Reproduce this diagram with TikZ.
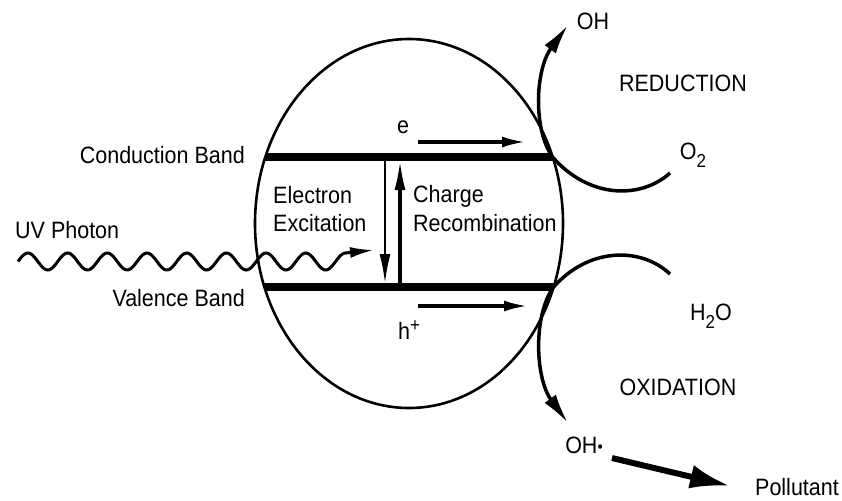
\documentclass[tikz,border=0pt]{standalone}
\usepackage{fontspec}
\setmainfont{Liberation Sans}
\usetikzlibrary{arrows.meta,shapes.geometric}
\newcommand\tx[1]{\scalebox{1}[1.1]{#1}}
\begin{document}
\begin{tikzpicture}[x=1pt,y=-1pt,
  lbl/.style={font=\fontsize{21.5}{26}\selectfont, inner sep=0pt},
  band/.style={line width=7.5pt},
  flowarrow/.style={line width=3.5pt, -{Latex[length=24pt,width=11pt]}},
  bandarrow/.style={-{Latex[length=30pt,width=11pt]}},
  curvearrow/.style={line width=3.5pt, -{Latex[length=30pt,width=14pt]}},
  bigarrow/.style={line width=6pt, -{Latex[length=40pt,width=24pt]}}]
\useasboundingbox (0,0) rectangle (842,500);

% particle
\node[draw, ellipse, line width=2.6pt, minimum width=308pt, minimum height=369pt, inner sep=0pt] (part) at (409,223.5) {};

% band ends
\coordinate (cbL) at (265.4,157);
\coordinate (cbR) at (552.6,157);
\coordinate (vbL) at (264.4,287);
\coordinate (vbR) at (553.6,287);
\draw[band] (cbL) -- (cbR);
\draw[band] (vbL) -- (vbR);

% labels left
\node[lbl, anchor=east] (cblbl) at (245,155) {\tx{Conduction Band}};
\node[lbl, anchor=east] (vblbl) at (245,298) {\tx{Valence Band}};
\node[lbl, anchor=west] (uvlbl) at (15,230) {\tx{UV Photon}};
\node[lbl, anchor=west] (exc1) at (273,195) {\tx{Electron}};
\node[lbl, anchor=west] (exc2) at (273,223) {\tx{Excitation}};
\node[lbl, anchor=west] (rec1) at (413,196) {\tx{Charge}};
\node[lbl, anchor=west] (rec2) at (413,223) {\tx{Recombination}};

% vertical arrows
\coordinate (dnTop) at (385,161);
\coordinate (dnBot) at (385,284);
\coordinate (upBot) at (400,284);
\coordinate (upTop) at (400,160);
\draw[bandarrow, line width=2.6pt] (dnTop) -- (dnBot);
\draw[bandarrow, line width=3.2pt] (upBot) -- (upTop);

% e and h+ arrows
\node[lbl] (elbl) at (403,127) {\tx{e}};
\node[lbl] (hlbl) at (409,330) {\tx{h\raisebox{7pt}{\fontsize{17}{17}\selectfont +}}};
\coordinate (eS) at (418,142);
\coordinate (eE) at (526,142);
\coordinate (hS) at (418,306);
\coordinate (hE) at (528,306);
\draw[flowarrow] (eS) -- (eE);
\draw[flowarrow] (hS) -- (hE);

% UV photon wave
\coordinate (uvtip) at (374,250);
\draw[line width=3pt, -{Latex[length=24pt,width=11pt]}]
  plot[domain=18:345, samples=200] (\x,{261.5-8.5*sin(9.068*(\x-18))}) -- (uvtip);

% right side labels
\node[lbl] (oh) at (593,21) {\tx{OH}};
\node[lbl] (red) at (683,83) {\tx{REDUCTION}};
\node[lbl] (o2) at (693,155) {\tx{O\raisebox{-7pt}{\fontsize{17}{17}\selectfont 2}}};
\node[lbl] (h2o) at (711,316) {\tx{H\raisebox{-7pt}{\fontsize{17}{17}\selectfont 2}O}};
\node[lbl] (ox) at (678,387) {\tx{OXIDATION}};
\node[lbl] (ohd) at (584,445) {\tx{OH\raisebox{1pt}{\fontsize{15}{15}\selectfont •}}};
\node[lbl] (pol) at (797,487) {\tx{Pollutant}};

% reduction curve
\coordinate (redS) at (670,173);
\coordinate (redT) at (568,25);
\draw[curvearrow] (redS) .. controls (640,200) and (588,198) .. (cbR)
  .. controls (533,130) and (535,70) .. (redT);

% oxidation curve
\coordinate (oxS) at (670,274);
\coordinate (oxT) at (568,423);
\draw[curvearrow] (oxS) .. controls (640,246) and (588,248) .. (vbR)
  .. controls (533,315) and (535,378) .. (oxT);

% pollutant arrow
\coordinate (polS) at (612,458);
\coordinate (polE) at (730,486);
\draw[bigarrow] (polS) -- (polE);
\end{tikzpicture}
\end{document}
